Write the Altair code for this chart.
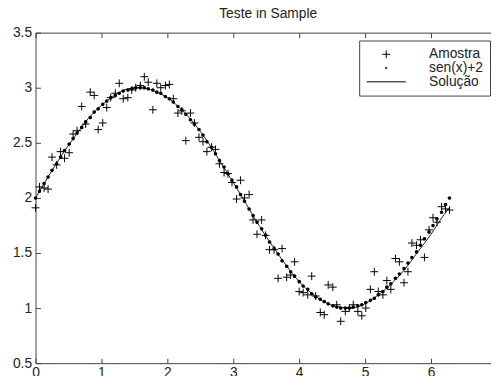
import altair as alt
import pandas as pd

# ---------------- data ----------------
x_grid = [0.00, 0.06, 0.13, 0.19, 0.25, 0.32, 0.38, 0.44, 0.51, 0.57,
          0.63, 0.70, 0.76, 0.83, 0.89, 0.95, 1.02, 1.08, 1.14, 1.21,
          1.27, 1.33, 1.40, 1.46, 1.52, 1.59, 1.65, 1.71, 1.78, 1.84,
          1.90, 1.97, 2.03, 2.09, 2.16, 2.22, 2.28, 2.35, 2.41, 2.48,
          2.54, 2.60, 2.67, 2.73, 2.79, 2.86, 2.92, 2.98, 3.05, 3.11,
          3.17, 3.24, 3.30, 3.36, 3.43, 3.49, 3.55, 3.62, 3.68, 3.74,
          3.81, 3.87, 3.93, 4.00, 4.06, 4.13, 4.19, 4.25, 4.32, 4.38,
          4.44, 4.51, 4.57, 4.63, 4.70, 4.76, 4.82, 4.89, 4.95, 5.01,
          5.08, 5.14, 5.20, 5.27, 5.33, 5.39, 5.46, 5.52, 5.59, 5.65,
          5.71, 5.78, 5.84, 5.90, 5.97, 6.03, 6.09, 6.16, 6.22, 6.28]

y_seno = [2.00, 2.06, 2.13, 2.19, 2.25, 2.31, 2.37, 2.43, 2.49, 2.54,
          2.59, 2.64, 2.69, 2.73, 2.78, 2.81, 2.85, 2.88, 2.91, 2.93,
          2.95, 2.97, 2.98, 2.99, 3.00, 3.00, 3.00, 2.99, 2.98, 2.96,
          2.95, 2.92, 2.90, 2.87, 2.83, 2.80, 2.76, 2.71, 2.67, 2.62,
          2.57, 2.51, 2.46, 2.40, 2.34, 2.28, 2.22, 2.16, 2.10, 2.03,
          1.97, 1.90, 1.84, 1.78, 1.72, 1.66, 1.60, 1.54, 1.49, 1.43,
          1.38, 1.33, 1.29, 1.24, 1.20, 1.17, 1.13, 1.10, 1.08, 1.06,
          1.04, 1.02, 1.01, 1.00, 1.00, 1.00, 1.01, 1.02, 1.03, 1.05,
          1.07, 1.09, 1.12, 1.15, 1.19, 1.22, 1.27, 1.31, 1.36, 1.41,
          1.46, 1.51, 1.57, 1.63, 1.69, 1.75, 1.81, 1.87, 1.94, 2.00]

y_amostra = [1.91, 2.10, 2.09, 2.08, 2.37, 2.30, 2.42, 2.36, 2.41, 2.58,
             2.61, 2.83, 2.67, 2.96, 2.93, 2.62, 2.68, 2.82, 2.91, 2.95,
             3.04, 2.90, 2.91, 2.98, 3.00, 3.02, 3.10, 3.05, 2.80, 3.04,
             3.00, 3.02, 3.03, 2.90, 2.77, 2.79, 2.52, 2.77, 2.68, 2.55,
             2.51, 2.42, 2.46, 2.44, 2.31, 2.23, 2.22, 2.14, 1.99, 2.16,
             2.00, 2.03, 1.80, 1.67, 1.80, 1.66, 1.53, 1.53, 1.27, 1.54,
             1.28, 1.30, 1.42, 1.15, 1.14, 1.12, 1.29, 1.11, 0.96, 0.94,
             1.21, 1.19, 1.03, 0.88, 0.97, 1.00, 1.03, 0.97, 0.93, 1.00,
             1.17, 1.33, 1.15, 1.12, 1.25, 1.17, 1.45, 1.42, 1.23, 1.33,
             1.59, 1.57, 1.62, 1.46, 1.71, 1.82, 1.78, 1.92, 1.90, 1.89]

x_sol = [0.0, 0.2, 0.4, 0.6, 0.8, 1.0, 1.2, 1.4, 1.6, 1.8, 2.0, 2.2, 2.4,
         2.6, 2.8, 3.0, 3.2, 3.4, 3.6, 3.8, 4.0, 4.2, 4.4, 4.6, 4.8, 5.0,
         5.2, 5.4, 5.6, 5.8, 6.0, 6.2, 6.28]
y_sol = [2.00, 2.20, 2.39, 2.56, 2.72, 2.84, 2.93, 2.99, 3.00, 2.97, 2.91,
         2.81, 2.68, 2.52, 2.33, 2.14, 1.94, 1.74, 1.56, 1.39, 1.24, 1.13,
         1.05, 1.01, 1.00, 1.04, 1.12, 1.22, 1.35, 1.51, 1.67, 1.85, 1.91]

series = ["Amostra", "sen(x)+2", "Solução"]
x_ticks = [0, 1, 2, 3, 4, 5, 6]
y_ticks = [0.5, 1, 1.5, 2, 2.5, 3, 3.5]
title_text = "Teste in Sample"

# ---------------- styling ----------------
FONT = "Liberation Sans"
FRAME = "#404040"
TXT = "#222222"
W, H = 463, 336
PLUS = "M-0.2,0H0.2M0,-0.2V0.2"
DOT_LEG = "M-0.04,0A0.04,0.04,0,1,1,0.04,0A0.04,0.04,0,1,1,-0.04,0Z"
DOT_MARK = "M-0.09,0A0.09,0.09,0,1,1,0.09,0A0.09,0.09,0,1,1,-0.09,0Z"
LINE = "M-1,0H1"

df_samp = pd.DataFrame({"x": x_grid, "y": y_amostra, "serie": series[0]})
df_dots = pd.DataFrame({"x": x_grid, "y": y_seno})
df_sol = pd.DataFrame({"x": x_sol, "y": y_sol})

xs = alt.Scale(domain=[0, 6.91], nice=False, zero=False)
ys = alt.Scale(domain=[0.5, 3.5], nice=False, zero=False)

common = dict(grid=False, title=None, domainColor=FRAME, tickColor=FRAME,
              labelColor=TXT, labelFont=FONT, labelFontSize=14)

samples = alt.Chart(df_samp).mark_point(
    filled=False, stroke="black", strokeWidth=1, size=1600, opacity=1
).encode(
    x=alt.X("x:Q", scale=xs, axis=alt.Axis(orient="bottom", offset=-H, values=x_ticks,
                                            labels=False, tickSize=5, domain=True, **common)),
    y=alt.Y("y:Q", scale=ys, axis=None),
    shape=alt.Shape("serie:N", scale=alt.Scale(domain=series, range=[PLUS, DOT_LEG, LINE]),
                    legend=alt.Legend(title=None, orient="none", legendX=329, legendY=8,
                                      padding=7, fillColor="white", strokeColor=FRAME,
                                      clipHeight=14, rowPadding=0, labelOffset=23,
                                      labelFontSize=14, labelFont=FONT, labelColor=TXT,
                                      symbolSize=1600, symbolStrokeColor="black",
                                      symbolStrokeWidth=1, symbolFillColor="black",
                                      symbolOffset=0)),
)

dots = alt.Chart(df_dots).mark_point(
    shape=DOT_MARK, filled=True, color="black", size=1600, opacity=1
).encode(
    x=alt.X("x:Q", scale=xs, axis=alt.Axis(orient="top", offset=-H, values=x_ticks,
                                            labels=False, tickSize=5, domain=False, **common)),
    y=alt.Y("y:Q", scale=ys, axis=alt.Axis(orient="right", offset=-W, values=y_ticks,
                                            labels=False, tickSize=5, domain=False, **common)),
)

sol = alt.Chart(df_sol).mark_line(
    color="#222222", strokeWidth=1, interpolate="monotone"
).encode(
    x=alt.X("x:Q", scale=xs, axis=alt.Axis(orient="bottom", values=x_ticks, format="d",
                                            tickSize=0, labelPadding=3, labelFlush=False,
                                            domain=True, **common)),
    y=alt.Y("y:Q", scale=ys, axis=alt.Axis(orient="left", values=y_ticks, format=".1~f",
                                            tickSize=0, labelPadding=4, domain=True, **common)),
)

chart = alt.layer(sol, samples, dots).resolve_axis(
    x="independent", y="independent"
).properties(
    width=W, height=H,
    autosize=alt.AutoSizeParams(type="none"),
    padding={"left": 28, "top": 22, "right": 0, "bottom": 10},
    background="white",
    title=alt.TitleParams(title_text, font=FONT, fontSize=14, fontWeight="normal",
                          color=TXT, anchor="middle", offset=10, dy=16, dx=5,
                          baseline="alphabetic"),
).configure_view(stroke="transparent")

chart.save("out.html", embed_options={"renderer": "svg", "actions": False})
